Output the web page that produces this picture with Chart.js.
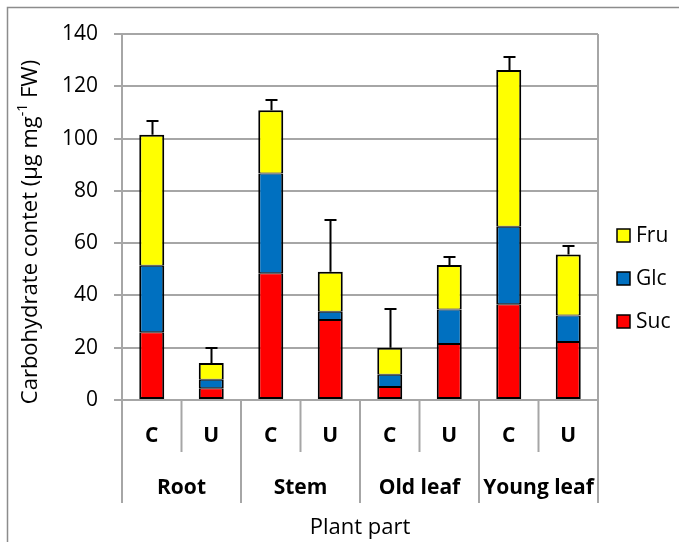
<!DOCTYPE html>
<html>
<head>
<meta charset="utf-8">
<script src="https://cdn.jsdelivr.net/npm/chart.js@4/dist/chart.umd.min.js"></script>
<style>
  html, body { margin: 0; padding: 0; background: #fff; }
  canvas { display: block; }
</style>
</head>
<body>
<canvas id="chart" width="679" height="542"></canvas>
<script>
// Treatment (C / U) for each bar, grouped by plant part
const categories = ['C', 'U', 'C', 'U', 'C', 'U', 'C', 'U'];
const groups = ['Root', 'Stem', 'Old leaf', 'Young leaf'];

// Sugar contents (µg mg-1 FW), stacked bottom to top: Suc, Glc, Fru
const sucValues = [25.9, 4.5, 48.5, 30.6, 5.0, 21.4, 36.6, 22.2];
const glcValues = [25.5, 3.2, 38.1, 3.2, 4.7, 13.2, 29.7, 10.1];
const fruValues = [50.1, 6.5, 24.2, 15.3, 10.3, 17.0, 59.9, 23.4];

// Error (upper whisker) on the total carbohydrate content
const errValues = [5.1, 5.7, 4.1, 19.8, 14.7, 3.0, 5.1, 3.1];

const yTicks = [0, 20, 40, 60, 80, 100, 120, 140];

const FONT = "'Open Sans', 'Noto Sans', sans-serif";
const GRID = '#a6a6a6';

const colors = { Suc: '#ff0000', Glc: '#0070c0', Fru: '#ffff00' };

// Error bars on top of each stack
const errorBars = {
  id: 'errorBars',
  afterDatasetsDraw(chart) {
    const { ctx, scales: { x, y } } = chart;
    ctx.save();
    ctx.strokeStyle = '#000';
    ctx.lineWidth = 2;
    categories.forEach((_, i) => {
      const total = sucValues[i] + glcValues[i] + fruValues[i];
      const cx = Math.round(x.getPixelForValue(i)) + 0.5;
      const y0 = y.getPixelForValue(total);
      const y1 = Math.round(y.getPixelForValue(total + errValues[i]));
      ctx.beginPath();
      ctx.moveTo(cx, y0);
      ctx.lineTo(cx, y1);
      ctx.moveTo(cx - 6, y1);
      ctx.lineTo(cx + 6, y1);
      ctx.stroke();
    });
    ctx.restore();
  }
};

// Outer frame, axis title, plot-area edge, two-level category axis, legend
const decorations = {
  id: 'decorations',
  beforeDraw(chart) {
    const { ctx } = chart;
    ctx.save();
    ctx.fillStyle = '#fff';
    ctx.fillRect(0, 0, chart.width, chart.height);
    ctx.strokeStyle = '#8c8c8c';
    ctx.lineWidth = 1.5;
    ctx.strokeRect(7.5, 7.5, chart.width + 20, chart.height + 20);
    ctx.restore();
  },
  afterDraw(chart) {
    const { ctx, chartArea: a, scales: { x } } = chart;
    ctx.save();

    // y-axis title with superscript exponent
    const parts = [
      ['Carbohydrate contet (\u00b5g mg', 22, 0],
      ['-1', 14, -8],
      [' FW)', 22, 0]
    ];
    let total = 0;
    parts.forEach(([t, s]) => { ctx.font = `${s}px ${FONT}`; total += ctx.measureText(t).width; });
    ctx.translate(31, 232);
    ctx.rotate(-Math.PI / 2);
    ctx.fillStyle = '#000';
    ctx.textBaseline = 'middle';
    ctx.textAlign = 'left';
    let px0 = -total / 2;
    parts.forEach(([t, s, dy]) => {
      ctx.font = `${s}px ${FONT}`;
      ctx.fillText(t, px0, dy);
      px0 += ctx.measureText(t).width;
    });
    ctx.setTransform(1, 0, 0, 1, 0, 0);

    ctx.strokeStyle = GRID;
    ctx.lineWidth = 2;
    const step = (a.right - a.left) / categories.length;
    const innerBottom = a.bottom + 52;
    const groupBottom = a.bottom + 103;

    // right edge of the plot area
    ctx.beginPath();
    ctx.moveTo(a.right, a.top);
    ctx.lineTo(a.right, a.bottom);
    ctx.stroke();

    // separators under the axis
    for (let k = 0; k <= categories.length; k++) {
      const px = a.left + k * step;
      const isGroupEdge = k % 2 === 0;
      ctx.beginPath();
      ctx.moveTo(px, a.bottom);
      ctx.lineTo(px, isGroupEdge ? groupBottom : innerBottom);
      ctx.stroke();
    }

    ctx.fillStyle = '#000';
    ctx.textAlign = 'center';
    ctx.textBaseline = 'middle';
    ctx.font = `bold 21px ${FONT}`;
    categories.forEach((c, i) => {
      ctx.fillText(c, x.getPixelForValue(i), a.bottom + 36);
    });
    groups.forEach((g, j) => {
      const cx = (x.getPixelForValue(2 * j) + x.getPixelForValue(2 * j + 1)) / 2;
      ctx.fillText(g, cx, a.bottom + 88);
    });
    ctx.font = `22px ${FONT}`;
    ctx.fillText('Plant part', (a.left + a.right) / 2, a.bottom + 128);

    // legend, top to bottom: Fru, Glc, Suc
    const items = [['Fru', colors.Fru], ['Glc', colors.Glc], ['Suc', colors.Suc]];
    ctx.textAlign = 'left';
    ctx.font = `21px ${FONT}`;
    items.forEach(([label, col], i) => {
      const cy = 236 + i * 43;
      ctx.fillStyle = col;
      ctx.fillRect(617, cy - 7, 13, 13);
      ctx.strokeStyle = '#000';
      ctx.lineWidth = 1.5;
      ctx.strokeRect(617, cy - 7, 13, 13);
      ctx.fillStyle = '#000';
      ctx.fillText(label, 636, cy);
    });
    ctx.restore();
  }
};

const makeSet = (label, data, top, bottom) => ({
  label,
  data,
  backgroundColor: colors[label],
  borderColor: '#000',
  borderWidth: { top, bottom, left: 2, right: 2 },
  borderSkipped: false,
  barPercentage: 0.42,
  categoryPercentage: 1.0
});

new Chart(document.getElementById('chart'), {
  type: 'bar',
  data: {
    labels: categories,
    datasets: [
      makeSet('Suc', sucValues, 1, 2),
      makeSet('Glc', glcValues, 1, 1),
      makeSet('Fru', fruValues, 2, 1)
    ]
  },
  options: {
    responsive: false,
    animation: false,
    layout: { padding: { left: 0, top: 34, right: 81, bottom: 0 } },
    plugins: {
      legend: { display: false },
      tooltip: { enabled: false }
    },
    scales: {
      x: {
        stacked: true,
        ticks: { display: false },
        grid: { display: false },
        border: { display: false },
        afterFit(scale) { scale.height = 142; }
      },
      y: {
        stacked: true,
        min: yTicks[0],
        max: yTicks[yTicks.length - 1],
        afterBuildTicks(scale) { scale.ticks = yTicks.map(v => ({ value: v })); },
        ticks: {
          color: '#000',
          padding: 16,
          font: { family: FONT, size: 21 }
        },
        grid: { color: GRID, lineWidth: 2, tickLength: 8 },
        border: { display: true, color: GRID, width: 2 },
        title: { display: false },
        afterFit(scale) { scale.width = 122; }
      }
    }
  },
  plugins: [decorations, errorBars]
});
</script>
</body>
</html>
